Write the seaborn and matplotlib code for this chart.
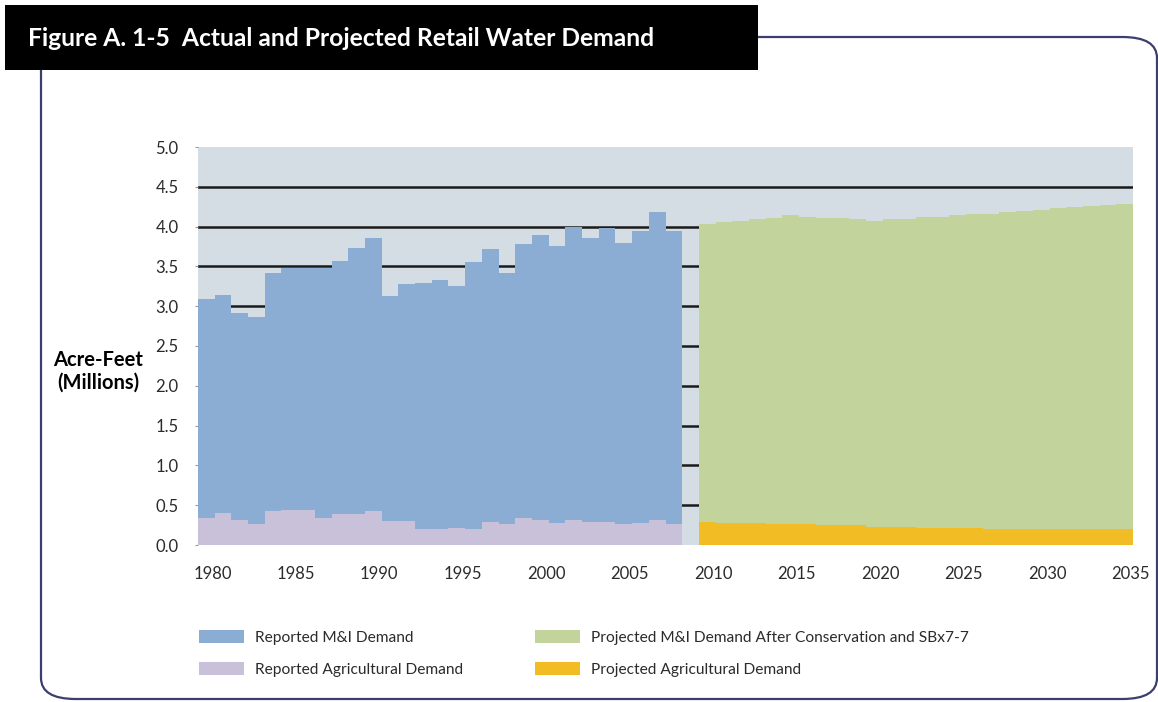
import numpy as np
import pandas as pd
import matplotlib.pyplot as plt
import matplotlib.transforms as mtransforms
from matplotlib import font_manager
import seaborn as sns
from matplotlib.patches import Patch, FancyBboxPatch, Rectangle

# Reported demand, million acre-feet (1980-2008)
reported_years = list(range(1980, 2009))
reported_mi = [2.75, 2.74, 2.59, 2.60, 2.99, 3.04, 3.04, 3.14, 3.18, 3.34,
               3.43, 2.82, 2.98, 3.09, 3.13, 3.04, 3.36, 3.43, 3.16, 3.44,
               3.57, 3.47, 3.67, 3.57, 3.69, 3.54, 3.66, 3.86, 3.68]
reported_ag = [0.34, 0.40, 0.32, 0.26, 0.43, 0.445, 0.445, 0.34, 0.385, 0.385,
               0.43, 0.305, 0.305, 0.20, 0.20, 0.21, 0.20, 0.29, 0.26, 0.34,
               0.32, 0.28, 0.32, 0.29, 0.29, 0.26, 0.28, 0.32, 0.26]

# Projected demand (2010-2035)
projected_years = list(range(2010, 2036))
projected_mi = [3.74, 3.78, 3.80, 3.82, 3.85, 3.88, 3.86, 3.86, 3.86, 3.85,
                3.84, 3.86, 3.87, 3.91, 3.91, 3.93, 3.94, 3.96, 3.98, 3.99,
                4.01, 4.03, 4.04, 4.06, 4.07, 4.09]
projected_ag = [0.29, 0.275, 0.275, 0.275, 0.26, 0.26, 0.26, 0.245, 0.245, 0.245,
                0.23, 0.23, 0.23, 0.215, 0.215, 0.215, 0.215, 0.20, 0.20, 0.20,
                0.20, 0.20, 0.20, 0.20, 0.20, 0.20]

series_labels = ["Reported M&I Demand", "Reported Agricultural Demand",
                 "Projected M&I Demand After Conservation and SBx7-7",
                 "Projected Agricultural Demand"]
y_ticks = [0.0, 0.5, 1.0, 1.5, 2.0, 2.5, 3.0, 3.5, 4.0, 4.5, 5.0]
x_ticks = [1980, 1985, 1990, 1995, 2000, 2005, 2010, 2015, 2020, 2025, 2030, 2035]
title = "Figure A. 1-5  Actual and Projected Retail Water Demand"

C_MI = "#8badd4"
C_AG = "#c9c1d9"
C_PMI = "#c2d39c"
C_PAG = "#f2bc25"
C_BG = "#d5dde4"
C_TEXT = "#2b2b2b"
C_FRAME = "#3a3f6e"

reported = pd.DataFrame({"year": reported_years, "mi": reported_mi, "ag": reported_ag})
reported["total"] = reported["mi"] + reported["ag"]
projected = pd.DataFrame({"year": projected_years, "mi": projected_mi, "ag": projected_ag})
projected["total"] = projected["mi"] + projected["ag"]

sns.set_theme(style="white")
plt.rcParams["font.family"] = ["Lato", "DejaVu Sans"]

installed = {f.name for f in font_manager.fontManager.ttflist}
title_font = "Liberation Sans Narrow" if "Liberation Sans Narrow" in installed else "Lato"

fig = plt.figure(figsize=(11.58, 7.02), dpi=100)
W, H = 1158, 702

# rounded frame around the figure
frame = FancyBboxPatch((41 / W, 1 - 699 / H), (1157 - 41) / W, (699 - 37) / H,
                       boxstyle="round,pad=0,rounding_size=0.03",
                       transform=fig.transFigure, facecolor="none",
                       edgecolor=C_FRAME, linewidth=1.6, zorder=0)
fig.patches.append(frame)
# black title block
title_box = Rectangle((5 / W, 1 - 70 / H), (758 - 5) / W, (70 - 5) / H,
                      transform=fig.transFigure, facecolor="black",
                      edgecolor="none", zorder=1)
fig.patches.append(title_box)
t = fig.text(28 / W, 1 - 39 / H, title, color="white", fontsize=20,
             fontweight="bold", family=[title_font, "DejaVu Sans"],
             va="center", ha="left", zorder=2)
# shrink the title until it fits the black block like the original
renderer = fig.canvas.get_renderer()
width_px = t.get_window_extent(renderer).width
if width_px > 628:
    t.set_fontsize(20 * 628 / width_px)

ax = fig.add_axes([198 / W, 1 - 545 / H, (1133 - 198) / W, (545 - 147) / H])
ax.set_facecolor(C_BG)

# stacked bars: total in back, agricultural on top
for df, c_top, c_bot in [(reported, C_MI, C_AG), (projected, C_PMI, C_PAG)]:
    sns.barplot(data=df, x="year", y="total", native_scale=True, width=1.0,
                color=c_top, saturation=1, errorbar=None, linewidth=0, ax=ax)
    sns.barplot(data=df, x="year", y="ag", native_scale=True, width=1.0,
                color=c_bot, saturation=1, errorbar=None, linewidth=0, ax=ax)

for y in y_ticks[1:-1]:
    ax.axhline(y, color="#1a1a1a", linewidth=1.8, zorder=0.5)

ax.set_xlim(1979.5, 2035.5)
ax.set_ylim(0, 5)
ax.set_yticks(y_ticks)
ax.set_yticklabels([f"{v:.1f}" for v in y_ticks])
ax.set_xticks(x_ticks)
ax.set_xticklabels([str(v) for v in x_ticks])
ax.tick_params(axis="y", length=2, width=0.8, color="#999999", pad=12,
               labelsize=12, labelcolor=C_TEXT, left=True)
ax.tick_params(axis="x", length=0, pad=15, labelsize=12, labelcolor=C_TEXT)
shift = mtransforms.ScaledTranslation(6 / 100, 0, fig.dpi_scale_trans)
for lbl in ax.get_xticklabels():
    lbl.set_transform(lbl.get_transform() + shift)
ax.set_xlabel("")
ax.set_ylabel("")
for s in ax.spines.values():
    s.set_visible(False)

fig.text(98 / W, 1 - 371 / H, "Acre-Feet\n(Millions)", ha="center", va="center",
         fontsize=14.5, fontweight="bold", color="black", linespacing=1.15)

handles = [Patch(facecolor=c, edgecolor="none") for c in (C_MI, C_AG, C_PMI, C_PAG)]
fig.legend(handles, series_labels, ncol=2, loc="upper left",
           bbox_to_anchor=(199 / W, 1 - 630 / H), frameon=False,
           fontsize=11.2, handlelength=2.9, handleheight=0.9, handletextpad=0.7,
           columnspacing=4.6, labelspacing=1.1, borderpad=0, borderaxespad=0,
           labelcolor=C_TEXT)

fig.savefig("out.png", dpi=100, facecolor="white")
